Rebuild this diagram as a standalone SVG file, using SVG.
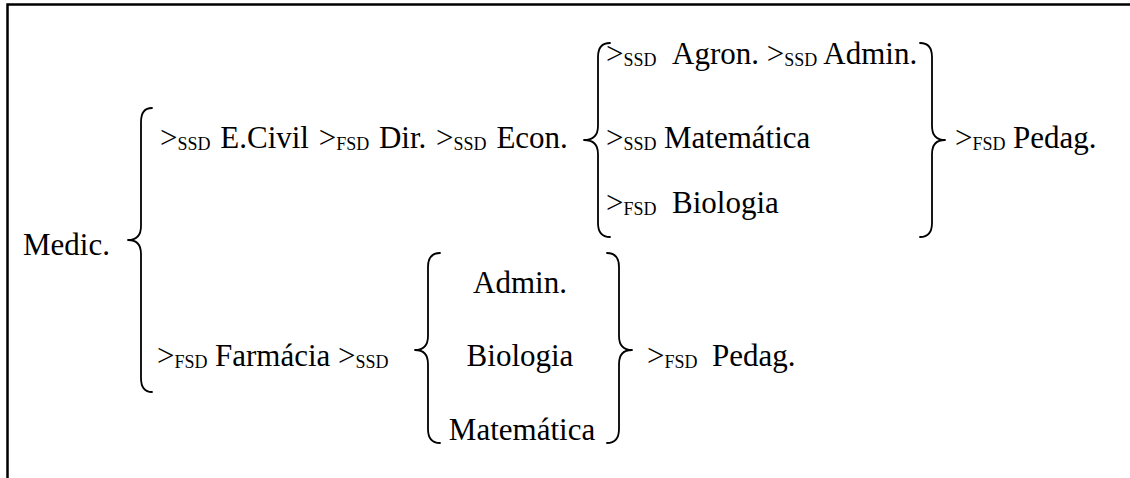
<svg xmlns="http://www.w3.org/2000/svg" width="1130" height="478" viewBox="0 0 1130 478" font-family="'Liberation Serif', 'Times New Roman', serif">
<style>
text{font-family:"Liberation Serif","Times New Roman",serif;font-size:31px;fill:#000}
.s{font-size:18px}
.br{fill:none;stroke:#000;stroke-width:1.8;stroke-linecap:round;stroke-linejoin:round}
</style>
<rect width="1130" height="478" fill="#fff"/>
<path d="M7.5,478 V4.5 H1130" fill="none" stroke="#000" stroke-width="2.5"/>

<g id="connectors">
<path class="br" d="M152,108 Q141,108 141,122 V226 Q141,240 128,240 Q141,240 141,254 V378 Q141,392 152,392"/>
<path class="br" d="M610,43 Q598,43 598,57 V126 Q598,140 584,140 Q598,140 598,154 V223 Q598,237 610,237"/>
<path class="br" d="M920,43 Q932,43 932,57 V126 Q932,140 945,140 Q932,140 932,154 V223 Q932,237 920,237"/>
<path class="br" d="M440,253 Q428,253 428,267 V336 Q428,350 415,350 Q428,350 428,364 V429 Q428,443 440,443"/>
<path class="br" d="M607,253 Q619,253 619,267 V336 Q619,350 632,350 Q619,350 619,364 V429 Q619,443 607,443"/>
</g>

<g id="medic"><text x="23" y="255">Medic.</text></g>

<g id="row-civil"><text x="160" y="148" word-spacing="2">&gt;<tspan class="s" dy="2">SSD</tspan><tspan dy="-2"> E.Civil &gt;</tspan><tspan class="s" dy="2">FSD</tspan><tspan dy="-2"> Dir. &gt;</tspan><tspan class="s" dy="2">SSD</tspan><tspan dy="-2"> Econ.</tspan></text></g>

<g id="row-agron"><text x="606" y="64">&gt;<tspan class="s" dy="2">SSD</tspan><tspan x="672" dy="-2">Agron. &gt;</tspan><tspan class="s" dy="2">SSD</tspan><tspan dy="-2"> Admin.</tspan></text></g>

<g id="row-mat1"><text x="606" y="148">&gt;<tspan class="s" dy="2">SSD</tspan><tspan x="664" dy="-2">Matemática</tspan></text></g>

<g id="row-bio1"><text x="606" y="213">&gt;<tspan class="s" dy="2">FSD</tspan><tspan x="672" dy="-2">Biologia</tspan></text></g>

<g id="pedag1"><text x="955" y="148">&gt;<tspan class="s" dy="2">FSD</tspan><tspan x="1013" dy="-2">Pedag.</tspan></text></g>

<g id="row-farm"><text x="157" y="366">&gt;<tspan class="s" dy="2">FSD</tspan><tspan x="215" dy="-2">Farmácia &gt;</tspan><tspan class="s" dy="2">SSD</tspan></text></g>

<g id="admin2"><text x="520" y="293" text-anchor="middle">Admin.</text></g>
<g id="bio2"><text x="520" y="366" text-anchor="middle">Biologia</text></g>
<g id="mat2"><text x="522" y="440" text-anchor="middle">Matemática</text></g>

<g id="pedag2"><text x="647" y="366">&gt;<tspan class="s" dy="2">FSD</tspan><tspan x="712" dy="-2">Pedag.</tspan></text></g>
</svg>
